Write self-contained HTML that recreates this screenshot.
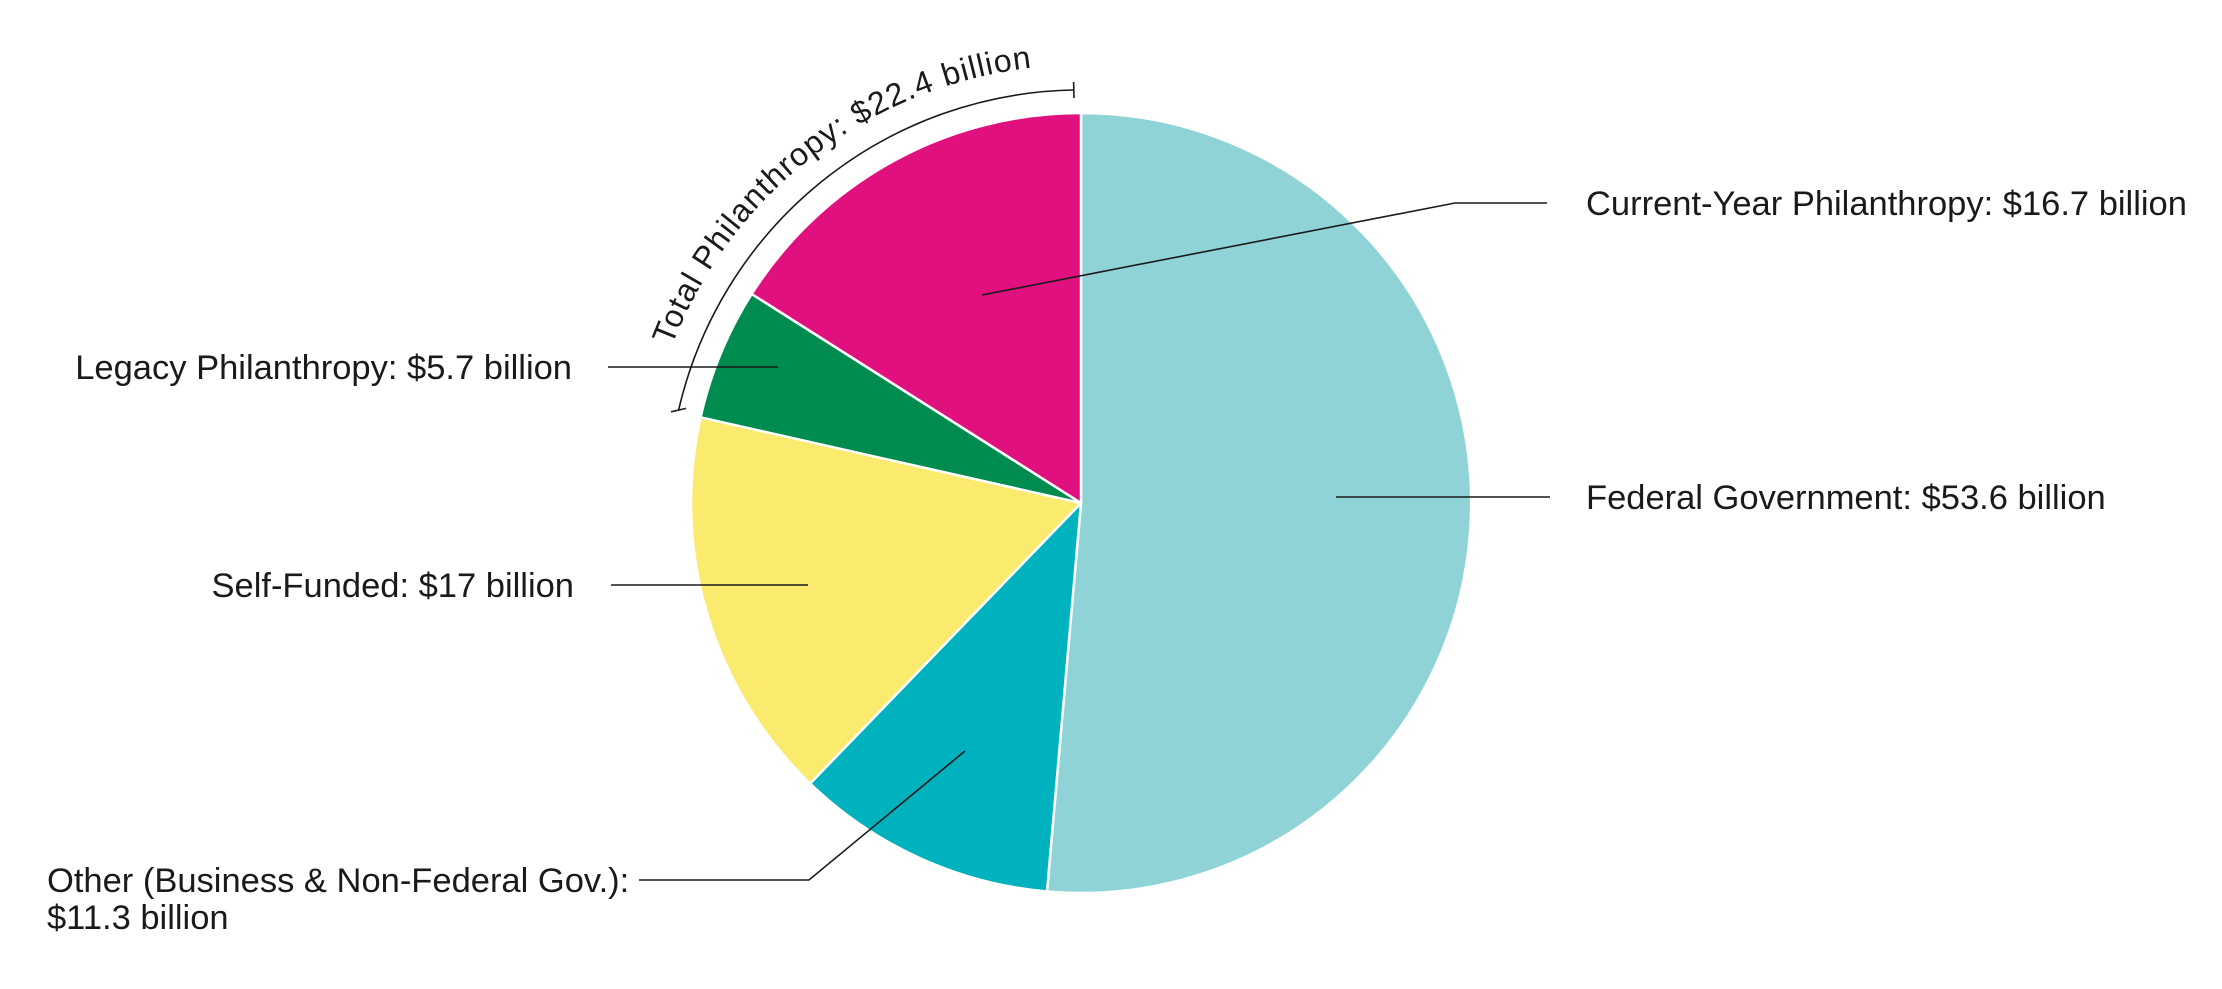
<!DOCTYPE html>
<html><head><meta charset="utf-8"><style>
html,body{margin:0;padding:0;background:#fff;}
svg{display:block;}
text{font-family:"Liberation Sans",sans-serif;fill:#1a1a1a;font-size:34.5px;}
</style></head><body>
<svg width="2222" height="989" viewBox="0 0 2222 989" xmlns="http://www.w3.org/2000/svg">
<g stroke="#fff" stroke-width="2.5" stroke-linejoin="round">
<path d="M1081,503 L1081,113 A390,390 0 1 1 1047,891.5 Z" fill="#8fd3d6"/>
<path d="M1081,503 L1047,891.5 A390,390 0 0 1 810.1,783.5 Z" fill="#00b2bd"/>
<path d="M1081,503 L810.1,783.5 A390,390 0 0 1 700.6,417.3 Z" fill="#faeb6e"/>
<path d="M1081,503 L700.6,417.3 A390,390 0 0 1 751.7,294 Z" fill="#008c4f"/>
<path d="M1081,503 L751.7,294 A390,390 0 0 1 1081,113 Z" fill="#e0107e"/>
</g>
<g stroke="#1a1a1a" stroke-width="1.6" fill="none">
<polyline points="982,295 1455,203 1547,203"/>
<line x1="1336" y1="497" x2="1550" y2="497"/>
<line x1="608" y1="367" x2="778" y2="367"/>
<line x1="611" y1="585" x2="808" y2="585"/>
<polyline points="965,751 809,880 639,880"/>
<path d="M678.6,410.1 A413,413 0 0 1 1073.8,90"/>
<line x1="671" y1="411.8" x2="686" y2="408.4"/>
<line x1="1073.6" y1="82" x2="1074" y2="98"/>
</g>
<text x="1586" y="215">Current-Year Philanthropy: $16.7 billion</text>
<text x="1586" y="509">Federal Government: $53.6 billion</text>
<text x="572" y="379" text-anchor="end">Legacy Philanthropy: $5.7 billion</text>
<text x="574" y="597" text-anchor="end">Self-Funded: $17 billion</text>
<text x="47" y="892">Other (Business &amp; Non-Federal Gov.):</text>
<text x="47" y="929">$11.3 billion</text>
<defs><path id="arcp" d="M672,346 A438,438 0 0 1 1058.1,65.6"/></defs>
<text style="font-size:32px"><textPath href="#arcp" textLength="478" lengthAdjust="spacing">Total  Philanthropy: $22.4 billion</textPath></text>
</svg>
</body></html>
